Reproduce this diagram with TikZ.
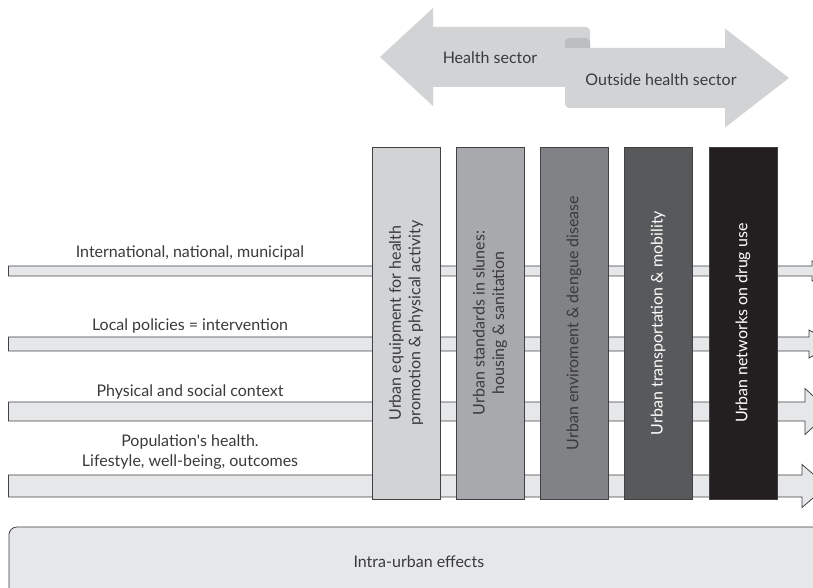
\documentclass[tikz,border=0pt]{standalone}
\usepackage{fontspec}
\setmainfont{Lato}
\usetikzlibrary{positioning}

\definecolor{edge}{HTML}{414042}
\definecolor{ink}{HTML}{3A3A3C}
\definecolor{flowfill}{HTML}{E6E7E8}
\definecolor{topgray}{HTML}{D1D3D4}
\definecolor{fold}{HTML}{BCBEC0}
\definecolor{barA}{HTML}{D1D3D4}
\definecolor{barB}{HTML}{A7A9AC}
\definecolor{barC}{HTML}{808285}
\definecolor{barD}{HTML}{58595B}
\definecolor{barE}{HTML}{231F20}

\begin{document}
\begin{tikzpicture}[x=1pt,y=1pt,font=\fontsize{16}{19.5}\selectfont,
    bar/.style={draw=edge,line width=0.8pt,rotate=90,minimum width=352pt,
      minimum height=68pt,inner sep=0pt,align=center},
    flow/.style={draw=edge,fill=flowfill,line width=0.8pt},
    lbl/.style={text=ink,align=center}]
\clip (0,0) rectangle (813,588);

% sector arrows
\fill[topgray] (380,531) -- (433,580) -- (433,561) [rounded corners=4pt] -- (590,561)
  -- (590,501) [sharp corners] -- (433,501) -- (433,482) -- cycle;
\fill[topgray] (565,540) -- (725,540) -- (725,559.5) -- (789,510) -- (725,460.5)
  -- (725,480) [rounded corners=4pt] -- (565,480) -- (565,510) [sharp corners] -- cycle;
\fill[fold] (565,540) [rounded corners=4pt] -- (565,550) -- (590,550) [sharp corners]
  -- (590,540) -- cycle;
\node[lbl] (health) at (490,530) {Health sector};
\node[lbl] (outside) at (661,508) {Outside health sector};

% levels
\foreach \yc/\sh/\hh/\hx in {317/5/10/812, 244/7/14/809, 176.5/9.5/23/805, 102/11/21.5/802}
  \draw[flow] (8.5,\yc-\sh) -- (\hx,\yc-\sh) -- (\hx,\yc-\hh) -- (\hx+25,\yc)
    -- (\hx,\yc+\hh) -- (\hx,\yc+\sh) -- (8.5,\yc+\sh) -- cycle;
\node[lbl] (intl) at (190,335) {International, national, municipal};
\node[lbl] (local) at (190,262) {Local policies = intervention};
\node[lbl] (context) at (190,196) {Physical and social context};
\node[lbl] (population) at (190,136)
  {Population\textquotesingle s health.\\Lifestyle, well-being, outcomes};

% urban topics
\node[bar,fill=barA,text=ink] (equip) at (406,265)
  {Urban equipment for health\\promotion \& physical activity};
\node[bar,fill=barB,text=ink] (slums) at (490,265)
  {Urban standards in slunes:\\housing \& sanitation};
\node[bar,fill=barC,text=ink] (dengue) at (574,265) {Urban enviroment \& dengue disease};
\node[bar,fill=barD,text=white] (mobility) at (658,265) {Urban transportation \& mobility};
\node[bar,fill=barE,text=white] (drugs) at (743,265) {Urban networks on drug use};

% effects
\node[draw=edge,fill=flowfill,line width=0.8pt,rounded corners=8pt,minimum width=820pt,
  minimum height=70pt,anchor=west,text=ink] (intra) at (8.5,26) {Intra-urban effects};
\end{tikzpicture}
\end{document}
